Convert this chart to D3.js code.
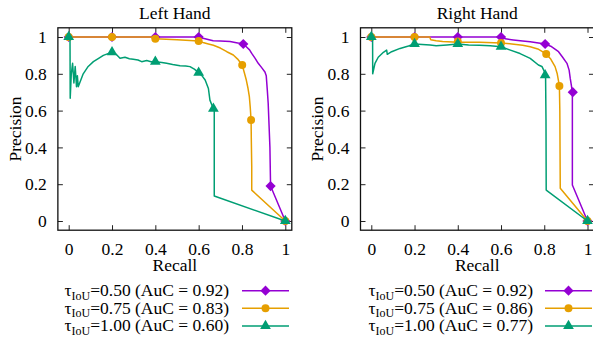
<!DOCTYPE html>
<html><head><meta charset="utf-8">
<script src="https://cdn.jsdelivr.net/npm/d3@7"></script>
<style>body{margin:0;background:#fff}svg{display:block}svg text{font-family:'Liberation Serif',Tinos,'Nimbus Roman','DejaVu Serif',serif !important;fill:#000}</style>
</head><body><svg id="c" width="593" height="341"></svg>
<script>
// ---- data ----
const tickValues = [0, 0.2, 0.4, 0.6, 0.8, 1];
const panelTitles = ["Left Hand", "Right Hand"];
const thresholds = ["0.50", "0.75", "1.00"];
const aucLeft = ["0.92", "0.83", "0.60"];
const aucRight = ["0.92", "0.86", "0.77"];
const colors = ["#9400d3", "#e69f00", "#009e73"];

// Left hand curves [recall, precision]
const leftT050 = [[0,1],[0.6,1],[0.62,0.993],[0.667,0.98],[0.7,0.978],[0.745,0.975],[0.78,0.968],[0.806,0.962],[0.82,0.947],[0.835,0.93],[0.845,0.911],[0.86,0.885],[0.875,0.857],[0.89,0.835],[0.906,0.81],[0.912,0.79],[0.917,0.71],[0.921,0.64],[0.925,0.52],[0.929,0.40],[0.932,0.19],[1,0]];
const leftT075 = [[0,1],[0.38,1],[0.4,0.99],[0.5,0.985],[0.6,0.978],[0.62,0.97],[0.645,0.962],[0.668,0.955],[0.7,0.94],[0.73,0.92],[0.76,0.902],[0.78,0.88],[0.801,0.848],[0.81,0.81],[0.82,0.766],[0.828,0.72],[0.834,0.676],[0.838,0.62],[0.842,0.549],[0.843,0.45],[0.845,0.30],[0.845,0.168],[1,0]];
const leftT100 = [[0,1],[0.006,1],[0.007,0.667],[0.012,0.80],[0.018,0.857],[0.024,0.75],[0.03,0.84],[0.036,0.73],[0.04,0.79],[0.044,0.73],[0.067,0.80],[0.09,0.84],[0.114,0.866],[0.14,0.885],[0.16,0.90],[0.2,0.918],[0.22,0.905],[0.237,0.884],[0.26,0.89],[0.28,0.882],[0.298,0.879],[0.32,0.875],[0.337,0.866],[0.36,0.872],[0.38,0.866],[0.4,0.866],[0.43,0.862],[0.452,0.857],[0.48,0.85],[0.514,0.844],[0.54,0.842],[0.56,0.839],[0.58,0.825],[0.6,0.806],[0.615,0.79],[0.63,0.766],[0.645,0.72],[0.652,0.657],[0.668,0.61],[0.672,0.60],[0.672,0.136],[1,0]];
// Right hand curves
const rightT050 = [[0,1],[0.6,1],[0.62,0.99],[0.657,0.984],[0.7,0.978],[0.735,0.974],[0.804,0.962],[0.83,0.95],[0.866,0.92],[0.885,0.89],[0.905,0.857],[0.915,0.82],[0.92,0.776],[0.925,0.74],[0.93,0.70],[0.93,0.196],[1,0]];
const rightT075 = [[0,1],[0.27,1],[0.275,0.985],[0.3,0.98],[0.33,0.975],[0.4,0.972],[0.5,0.972],[0.6,0.968],[0.65,0.962],[0.7,0.955],[0.735,0.947],[0.77,0.935],[0.809,0.908],[0.83,0.88],[0.85,0.839],[0.86,0.80],[0.866,0.76],[0.87,0.734],[0.872,0.6],[0.874,0.178],[1,0]];
const rightT100 = [[0,1],[0.006,0.99],[0.0065,0.80],[0.017,0.857],[0.032,0.89],[0.056,0.917],[0.071,0.929],[0.074,0.906],[0.094,0.92],[0.133,0.938],[0.172,0.951],[0.2,0.962],[0.272,0.957],[0.3,0.952],[0.35,0.957],[0.4,0.962],[0.45,0.956],[0.5,0.955],[0.55,0.952],[0.6,0.947],[0.64,0.93],[0.688,0.91],[0.735,0.884],[0.773,0.848],[0.789,0.84],[0.806,0.80],[0.808,0.55],[0.809,0.168],[1,0]];

// markers
const leftM050 = [[0,1],[0.2,1],[0.4,1],[0.6,1],[0.806,0.962],[0.932,0.19],[1,0]];
const leftM075 = [[0,1],[0.2,1],[0.4,0.99],[0.6,0.978],[0.801,0.848],[0.842,0.549],[1,0]];
const leftM100 = [[0,1],[0.2,0.918],[0.4,0.866],[0.6,0.806],[0.668,0.61],[1,0]];
const rightM050 = [[0,1],[0.2,1],[0.4,1],[0.6,1],[0.804,0.962],[0.932,0.70],[1,0]];
const rightM075 = [[0,1],[0.2,1],[0.4,0.975],[0.6,0.968],[0.809,0.908],[0.87,0.734],[1,0]];
const rightM100 = [[0,1],[0.2,0.962],[0.4,0.962],[0.6,0.947],[0.804,0.793],[1,0]];

// ---- drawing ----
const svg = d3.select("#c");
const FS = 17.5, LFS = 17.5, SUB = 12;
const FONT = "'Liberation Serif', Tinos, 'Nimbus Roman', 'DejaVu Serif', serif";
const panels = [
  {x0: 68.7, x1: 285.3, title: panelTitles[0], curves: [leftT050, leftT075, leftT100], marks: [leftM050, leftM075, leftM100], auc: aucLeft, ylab: 15, legRight: 229, legLine: [242, 289]},
  {x0: 371.3, x1: 587.5, title: panelTitles[1], curves: [rightT050, rightT075, rightT100], marks: [rightM050, rightM075, rightM100], auc: aucRight, ylab: 317, legRight: 533, legLine: [545, 592]}
];
const yBase = 221, yTop1 = 37;

const symbols = [
  d3.symbol().type(d3.symbolSquare).size(52),
  d3.symbol().type(d3.symbolCircle).size(50),
  d3.symbol().type(d3.symbolTriangle).size(50)
];
function drawMark(g, i, px, py) {
  g.append("path").attr("d", symbols[i]()).attr("fill", colors[i])
    .attr("transform", `translate(${px},${py})` + (i === 0 ? " rotate(45)" : ""));
}

panels.forEach(P => {
  const x = d3.scaleLinear().domain([0, 1]).range([P.x0, P.x1]);
  const y = d3.scaleLinear().domain([0, 1]).range([yBase, yTop1]);
  const fx0 = x(-0.05), fx1 = x(1.03), fy0 = y(-0.05), fy1 = y(1.05);
  const g = svg.append("g").attr("font-family", FONT);

  const cid = "clip" + Math.round(P.x0);
  svg.append("clipPath").attr("id", cid).append("rect").attr("x", fx0).attr("y", fy1).attr("width", fx1 - fx0).attr("height", fy0 - fy1);

  const fmt = d => d3.format("~g")(d);
  const ax = [
    g.append("g").attr("transform", `translate(0,${fy0})`).call(d3.axisBottom(x).tickValues(tickValues).tickSize(-5).tickPadding(12).tickFormat(fmt)),
    g.append("g").attr("transform", `translate(0,${fy1})`).call(d3.axisTop(x).tickValues(tickValues).tickSize(-5).tickFormat("")),
    g.append("g").attr("transform", `translate(${fx0},0)`).call(d3.axisLeft(y).tickValues(tickValues).tickSize(-5).tickPadding(11).tickFormat(fmt)),
    g.append("g").attr("transform", `translate(${fx1},0)`).call(d3.axisRight(y).tickValues(tickValues).tickSize(-5).tickFormat(""))
  ];
  ax.forEach(a => {
    a.attr("font-family", FONT).attr("font-size", FS);
    a.select(".domain").remove();
    a.selectAll("line").attr("stroke", "#222").attr("stroke-width", 1);
    a.selectAll("text").attr("fill", "#000");
  });

  const lineGen = d3.line().x(d => x(d[0])).y(d => y(d[1]));
  const plot = g.append("g").attr("clip-path", `url(#${cid})`);
  P.curves.forEach((c, i) => {
    plot.append("path").datum(c).attr("d", lineGen).attr("fill", "none").attr("stroke", colors[i]).attr("stroke-width", 1.5).attr("stroke-linejoin", "round");
    P.marks[i].forEach(m => drawMark(plot, i, x(m[0]), y(m[1])));
  });
  g.append("rect").attr("x", fx0).attr("y", fy1).attr("width", fx1 - fx0).attr("height", fy0 - fy1).attr("fill", "none").attr("stroke", "#111").attr("stroke-width", 1.3);

  const cx = (fx0 + fx1) / 2;
  g.append("text").attr("x", cx).attr("y", 18.5).attr("text-anchor", "middle").attr("font-size", FS).text(P.title);
  g.append("text").attr("x", cx).attr("y", 271).attr("text-anchor", "middle").attr("font-size", FS).text("Recall");
  g.append("text").attr("transform", `translate(${P.ylab + 6},${y(0.5)}) rotate(-90)`).attr("text-anchor", "middle").attr("font-size", FS).text("Precision");

  thresholds.forEach((t, i) => {
    const ly = 290.7 + i * 17.6;
    const tx = g.append("text").attr("x", P.legRight).attr("y", ly + 5.5).attr("text-anchor", "end").attr("font-size", LFS);
    tx.append("tspan").text("τ");
    tx.append("tspan").attr("font-size", SUB).attr("dy", 3.5).text("IoU");
    tx.append("tspan").attr("dy", -3.5).text(`=${t} (AuC = ${P.auc[i]})`);
    g.append("line").attr("x1", P.legLine[0]).attr("x2", P.legLine[1]).attr("y1", ly).attr("y2", ly).attr("stroke", colors[i]).attr("stroke-width", 1.5);
    drawMark(g, i, (P.legLine[0] + P.legLine[1]) / 2, ly);
  });
});
</script></body></html>
